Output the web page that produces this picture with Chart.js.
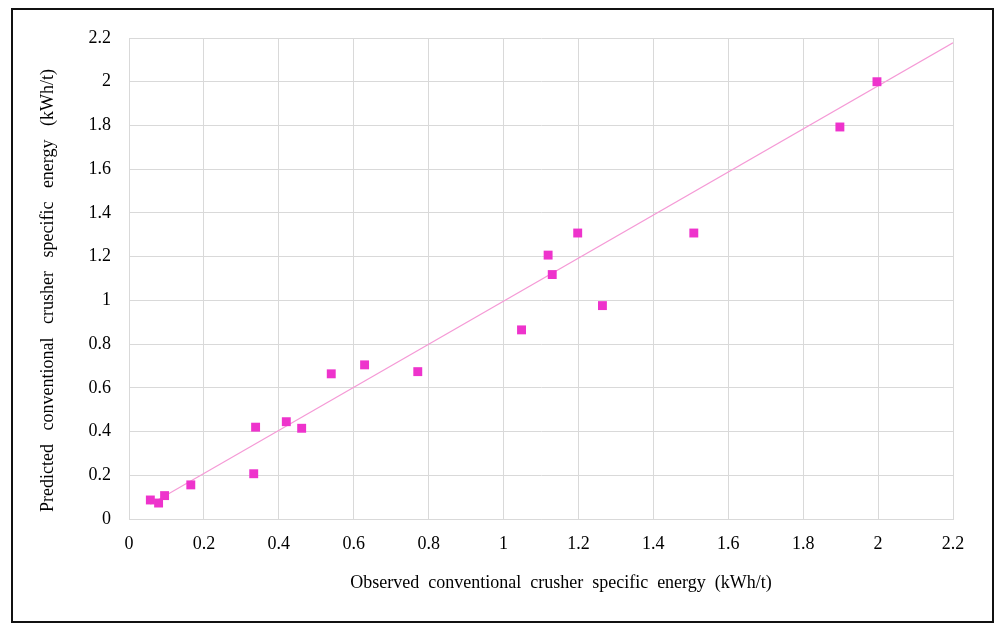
<!DOCTYPE html>
<html>
<head>
<meta charset="utf-8">
<script src="https://cdn.jsdelivr.net/npm/chart.js@4.4.1/dist/chart.umd.min.js"></script>
<style>
  html, body { margin: 0; padding: 0; background: #fff; }
  #frame { position: absolute; left: 11px; top: 8px; width: 979px; height: 611px; border: 2px solid #111; }
  #wrap { position: absolute; left: 0; top: 0; width: 999px; height: 630px; }
</style>
</head>
<body>
<div id="frame"></div>
<div id="wrap"><canvas id="chart" width="999" height="630"></canvas></div>
<script>
// observed vs predicted specific energy (kWh/t)
var observed  = [0.057, 0.079, 0.095, 0.165, 0.333, 0.338, 0.420, 0.461, 0.540, 0.629, 0.771, 1.048, 1.119, 1.130, 1.198, 1.264, 1.508, 1.898, 1.997];
var predicted = [0.087, 0.073, 0.107, 0.156, 0.207, 0.420, 0.445, 0.415, 0.664, 0.705, 0.674, 0.865, 1.207, 1.118, 1.308, 0.976, 1.308, 1.793, 2.000];

// linear trendline, ends
var trendX = [0.057, 2.2];
var trendY = [0.067, 2.178];

var tickLabels = ['0', '0.2', '0.4', '0.6', '0.8', '1', '1.2', '1.4', '1.6', '1.8', '2', '2.2'];

var xTitle = 'Observed  conventional  crusher  specific  energy  (kWh/t)';
var yTitle = 'Predicted   conventional   crusher   specific   energy   (kWh/t)';

function toPoints(xs, ys) {
   var pts = [];
   for (var i = 0; i < xs.length; i++) {
      pts.push({ x: xs[i], y: ys[i] });
   }
   return pts;
}

// axis titles drawn by hand so they sit where the original has them
var axisTitles = {
   id: 'axisTitles',
   afterDraw: function(chart) {
      var ctx = chart.ctx;
      var a = chart.chartArea;
      ctx.save();
      ctx.font = '18px "Liberation Serif"';
      ctx.fillStyle = '#000';
      ctx.textAlign = 'center';
      ctx.textBaseline = 'middle';
      ctx.fillText(xTitle, (a.left + a.right) / 2 + 20, a.bottom + 64);
      ctx.translate(48, (a.top + a.bottom) / 2 + 12);
      ctx.rotate(-Math.PI / 2);
      ctx.fillText(yTitle, 0, 0);
      ctx.restore();
   }
};

var tickFont = { family: '"Liberation Serif"', size: 18 };
var gridColor = '#d9d9d9';

var ctx = document.getElementById('chart').getContext('2d');
var chart = new Chart(ctx, {
   type: 'scatter',
   data: {
      datasets: [{
         label: 'Data',
         data: toPoints(observed, predicted),
         pointStyle: 'rect',
         pointRadius: 6.3,
         pointHoverRadius: 6.3,
         backgroundColor: '#ee33cc',
         borderColor: '#ee33cc',
         borderWidth: 0,
         order: 1
      }, {
         type: 'line',
         label: 'Linear',
         data: toPoints(trendX, trendY),
         borderColor: '#f59ad6',
         borderWidth: 1.2,
         pointRadius: 0,
         fill: false,
         order: 2
      }]
   },
   plugins: [axisTitles],
   options: {
      responsive: false,
      animation: false,
      layout: { padding: { top: 38, right: 46, left: 0, bottom: 0 } },
      plugins: {
         legend: { display: false },
         tooltip: { enabled: false }
      },
      scales: {
         x: {
            type: 'linear',
            min: 0,
            max: 2.2,
            afterFit: function(scale) { scale.height = 111; },
            ticks: {
               stepSize: 0.2,
               autoSkip: false,
               maxRotation: 0,
               padding: 14,
               color: '#000',
               font: tickFont,
               callback: function(value, index) { return tickLabels[index]; }
            },
            grid: { color: gridColor, drawTicks: false },
            border: { color: gridColor }
         },
         y: {
            type: 'linear',
            min: 0,
            max: 2.2,
            afterFit: function(scale) { scale.width = 129; },
            ticks: {
               stepSize: 0.2,
               autoSkip: false,
               padding: 18,
               color: '#000',
               font: tickFont,
               callback: function(value, index) { return tickLabels[index]; }
            },
            grid: { color: gridColor, drawTicks: false },
            border: { color: gridColor }
         }
      }
   }
});
</script>
</body>
</html>
